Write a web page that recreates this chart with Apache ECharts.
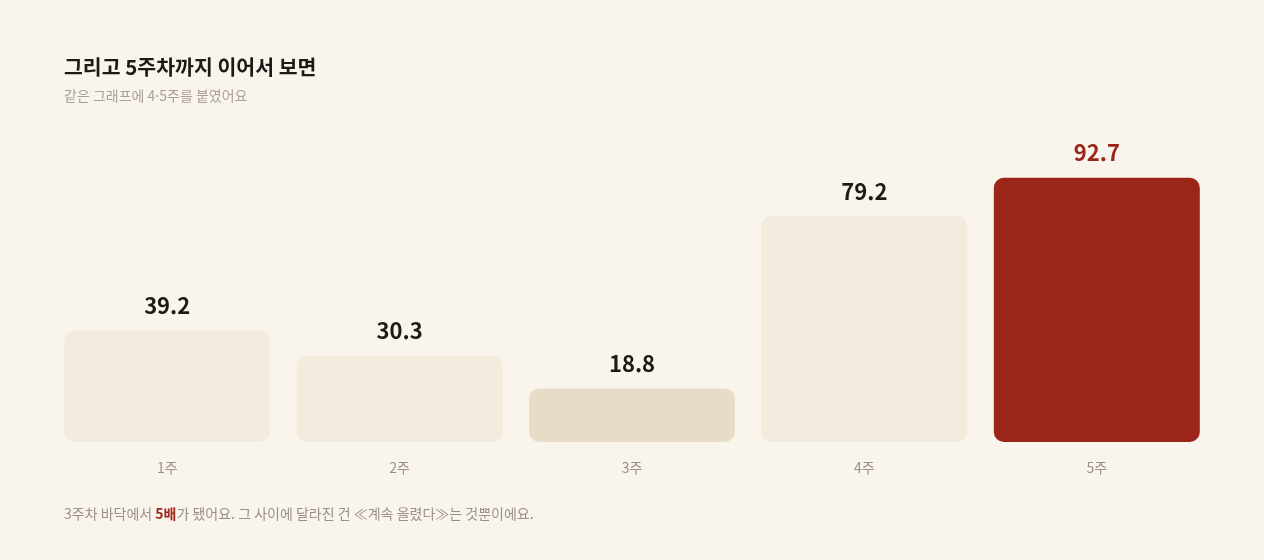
<!DOCTYPE html>
<html lang="ko">
<head>
  <meta charset="UTF-8">
  <style>
    body { margin: 0; background: #faf5ec; }
    #chart { width: 1264px; height: 560px; }
  </style>
  <title>5주차까지</title>
</head>
<body>
  <div id="chart"></div>
  <script src="https://cdn.jsdelivr.net/npm/echarts@6/dist/echarts.min.js"></script>
  <script>
    const weeks = ['1주', '2주', '3주', '4주', '5주'];
    const values = [39.2, 30.3, 18.8, 79.2, 92.7];
    const barColors = ['#f3ebde', '#f3ebde', '#e6dcc8', '#f3ebde', '#9b2519'];
    const labelColors = ['#1f1a17', '#1f1a17', '#1f1a17', '#1f1a17', '#9b2519'];

    const font = '"Noto Sans CJK KR", "Noto Sans", sans-serif';
    const chart = echarts.init(document.getElementById('chart'));

    chart.setOption({
      backgroundColor: '#faf5ec',
      animation: false,
      textStyle: { fontFamily: font },
      title: {
        text: '그리고 5주차까지 이어서 보면',
        subtext: '같은 그래프에 4·5주를 붙였어요',
        left: 64,
        top: 57,
        padding: 0,
        itemGap: 11,
        textStyle: { fontSize: 20.5, fontWeight: 'bold', color: '#1f1a17', fontFamily: font },
        subtextStyle: { fontSize: 14, color: '#a9a096', fontFamily: font }
      },
      grid: { left: 51, right: 51, top: 157, bottom: 118 },
      xAxis: {
        type: 'category',
        data: weeks,
        axisLine: { show: false },
        axisTick: { show: false },
        axisLabel: { color: '#9a9089', fontSize: 14, margin: 19, fontFamily: font }
      },
      yAxis: {
        type: 'value',
        min: 0,
        max: 100,
        show: false
      },
      series: [{
        type: 'bar',
        barWidth: 206,
        data: values.map((v, i) => ({
          value: v,
          itemStyle: { color: barColors[i], borderRadius: 10 },
          label: { color: labelColors[i] }
        })),
        label: {
          show: true,
          position: 'top',
          distance: 14,
          fontSize: 22,
          fontWeight: 'bold',
          fontFamily: font
        }
      }],
      graphic: [{
        type: 'text',
        left: 64,
        top: 507,
        style: {
          text: '3주차 바닥에서 {b|5배}가 됐어요. 그 사이에 달라진 건 ≪계속 올렸다≫는 것뿐이에요.',
          fill: '#9a9089',
          fontSize: 14,
          fontFamily: font,
          rich: {
            b: { fill: '#9b2519', fontWeight: 'bold', fontSize: 14, fontFamily: font }
          }
        }
      }]
    });
  </script>
</body>
</html>
